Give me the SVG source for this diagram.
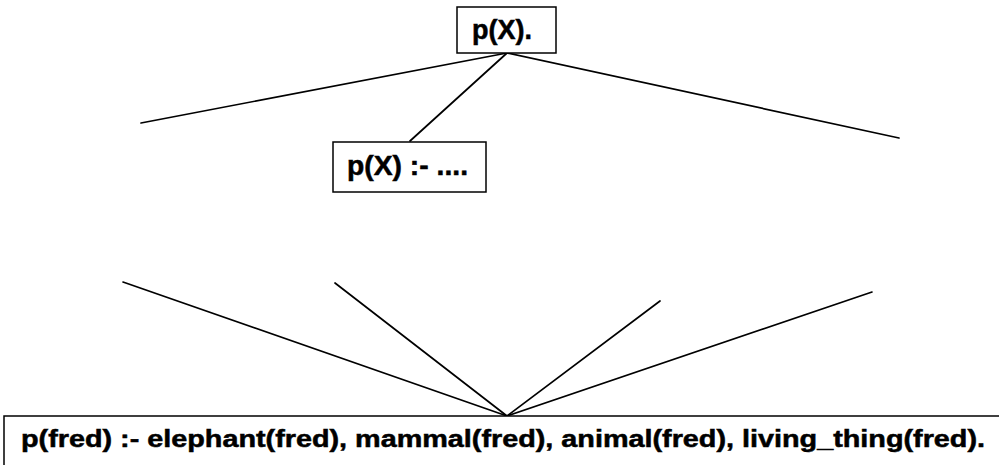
<svg xmlns="http://www.w3.org/2000/svg" width="999" height="465" viewBox="0 0 999 465">
  <style>
    .box { fill: #fff; stroke: #000; stroke-width: 1.5; }
    .lbl { font-family: "Liberation Sans", Arial, sans-serif; font-weight: bold; fill: #000; stroke: #000; stroke-width: 0.5; }
    .edge { stroke: #000; stroke-width: 1.7; fill: none; stroke-linecap: round; }
  </style>
  <rect width="999" height="465" fill="#fff"/>
  <g id="connectors">
    <line class="edge" x1="507" y1="53" x2="141" y2="123"/>
    <line class="edge" x1="507" y1="53" x2="899" y2="138"/>
    <line class="edge" x1="507" y1="53" x2="410" y2="141"/>
    <line class="edge" x1="507" y1="416" x2="123" y2="282"/>
    <line class="edge" x1="507" y1="416" x2="335" y2="283"/>
    <line class="edge" x1="507" y1="416" x2="660" y2="301"/>
    <line class="edge" x1="507" y1="416" x2="872" y2="292"/>
  </g>
  <g id="goal">
    <rect class="box" x="457" y="7" width="99" height="46"/>
    <text class="lbl" x="472" y="39" font-size="27" textLength="60" lengthAdjust="spacingAndGlyphs">p(X).</text>
  </g>
  <g id="rule">
    <rect class="box" x="333" y="142" width="153" height="50"/>
    <text class="lbl" x="347" y="175" font-size="27" textLength="121" lengthAdjust="spacingAndGlyphs">p(X) :- ....</text>
  </g>
  <g id="clause">
    <rect class="box" x="4" y="416" width="1000" height="60"/>
    <text class="lbl" x="21" y="447" font-size="23" textLength="964" lengthAdjust="spacingAndGlyphs">p(fred) :- elephant(fred), mammal(fred), animal(fred), living_thing(fred).</text>
  </g>
</svg>
